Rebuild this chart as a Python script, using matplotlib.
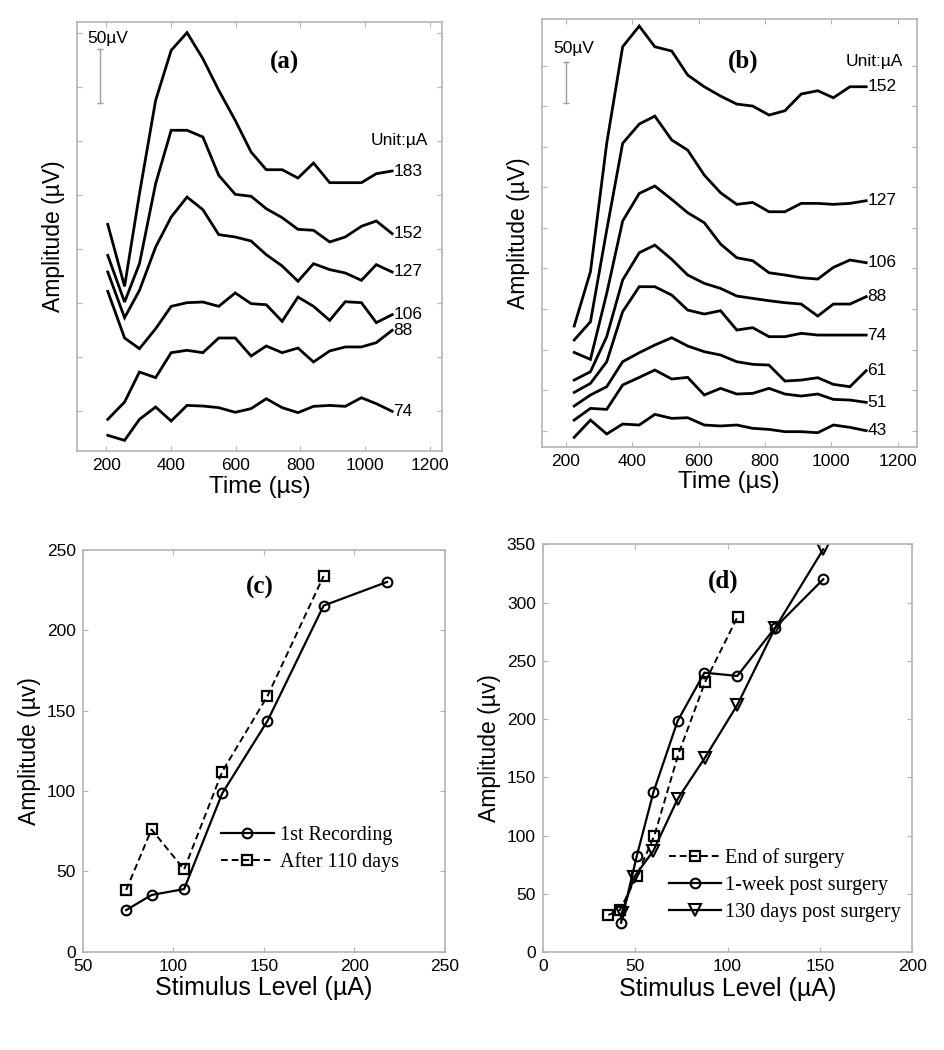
"""Recreation of a four-panel ECAP figure: waveforms (a, b) and growth curves (c, d)."""
import matplotlib
matplotlib.use("Agg")
import matplotlib.pyplot as plt

SANS = "Liberation Sans"
SERIF = "Liberation Serif"
plt.rcParams["font.family"] = [SANS, "DejaVu Sans"]
plt.rcParams["mathtext.default"] = "regular"

GRAY = "#b4b4b4"

# ---- panel (a): waveforms, traces offset vertically (uV) ----
time_a = [205, 257, 303, 353, 401, 450, 499, 548, 599, 648, 695, 744, 793,
          841, 891, 939, 989, 1035, 1084]
wave_a_183 = [172.5, 115.1, 200.9, 287.3, 333.6, 350.0, 325.9, 296.6, 268.8,
              239.5, 223.1, 223.1, 215.4, 229.3, 211.1, 211.1, 211.1, 219.4, 221.9]
wave_a_152 = [143.8, 100.6, 136.1, 210.2, 259.6, 259.6, 253.4, 217.9, 200.3,
              198.5, 187.0, 178.7, 167.9, 167.0, 156.2, 160.8, 170.7, 175.6, 163.9]
wave_a_127 = [128.4, 86.1, 111.4, 151.5, 179.3, 197.8, 186.1, 163.0, 160.8,
              157.1, 144.4, 134.0, 119.8, 136.1, 130.6, 127.5, 120.7, 135.2, 128.4]
wave_a_106 = [110.5, 67.3, 57.4, 75.9, 96.6, 100.0, 100.6, 96.6, 109.0,
              99.1, 98.1, 82.7, 105.2, 96.6, 83.6, 100.9, 100.0, 81.5, 88.9]
wave_a_88 = [-8.0, 8.0, 35.8, 30.6, 53.7, 55.9, 53.7, 67.3, 67.3,
             50.6, 59.9, 53.7, 58.0, 45.1, 55.3, 59.0, 59.0, 63.0, 74.4]
wave_a_74 = [-22.8, -27.5, -8.0, 3.4, -9.6, 4.9, 4.3, 2.8, -1.5,
             1.9, 11.1, 2.8, -1.8, 4.0, 4.9, 4.0, 12.0, 6.5, -0.6]
levels_a = ["183", "152", "127", "106", "88", "74"]

# ---- panel (b) ----
time_b = [225, 274, 323, 371, 421, 468, 519, 567, 617, 666, 715, 763, 812,
          860, 909, 959, 1006, 1056, 1105]
wave_b_152 = [129.0, 196.0, 354.2, 473.3, 498.8, 473.3, 468.0, 438.4, 424.0,
              412.5, 402.6, 400.2, 389.1, 394.4, 415.0, 419.1, 410.4, 424.0, 424.0]
wave_b_127 = [111.8, 134.3, 247.3, 354.2, 378.0, 387.8, 358.3, 345.9, 315.1,
              293.3, 279.0, 281.4, 269.9, 269.9, 280.2, 280.2, 279.0, 280.2, 283.5]
wave_b_106 = [96.5, 87.9, 169.3, 258.4, 292.5, 301.6, 285.1, 268.7, 256.4,
              230.1, 213.2, 209.5, 194.7, 191.9, 188.6, 186.9, 201.3, 210.4, 207.1]
wave_b_88 = [62.4, 72.7, 115.9, 185.7, 219.4, 228.8, 211.2, 191.9, 181.6,
             175.4, 166.0, 163.1, 160.2, 157.8, 156.1, 141.3, 156.1, 156.1, 165.2]
wave_b_74 = [47.2, 58.3, 85.0, 146.7, 177.5, 177.5, 167.2, 148.7, 143.8,
             147.9, 124.1, 127.0, 115.9, 115.9, 120.0, 117.9, 117.9, 117.9, 117.9]
wave_b_61 = [30.4, 44.0, 54.2, 85.0, 96.1, 105.6, 114.6, 104.4, 97.4,
             93.3, 85.0, 81.8, 80.9, 61.2, 62.4, 65.3, 57.1, 54.2, 74.0]
wave_b_51 = [13.1, 27.5, 26.3, 56.3, 65.7, 74.8, 63.7, 65.7, 44.0,
             52.2, 45.2, 46.0, 52.2, 45.2, 42.7, 45.2, 38.6, 37.8, 34.9]
wave_b_43 = [-8.2, 13.1, -4.1, 8.2, 7.0, 20.1, 15.2, 16.0, 7.0,
             5.8, 7.0, 2.9, 1.6, -1.2, -1.2, -2.5, 7.0, 4.1, 0.0]
levels_b = ["152", "127", "106", "88", "74", "61", "51", "43"]

# ---- panel (c): growth function ----
stim_c_first = [74, 88, 106, 127, 152, 183, 218]
amp_c_first = [25.9, 35.3, 39.0, 98.5, 143.6, 215.4, 230.1]
stim_c_after = [74, 88, 106, 127, 152, 183]
amp_c_after = [38.4, 76.1, 51.2, 112.0, 159.1, 233.8]

# ---- panel (d) ----
stim_d_end = [35.5, 41.8, 50.9, 60.4, 73.4, 87.8, 105.5]
amp_d_end = [32.0, 36.3, 65.5, 100.1, 169.9, 231.6, 288.0]
stim_d_week = [42.4, 50.9, 59.9, 73.0, 87.5, 105.3, 125.7, 151.8]
amp_d_week = [25.4, 82.6, 137.3, 198.5, 239.9, 237.1, 278.5, 320.0]
stim_d_130 = [42.7, 49.6, 59.9, 73.0, 87.8, 105.3, 125.7, 151.8]
amp_d_130 = [33.5, 64.9, 87.2, 131.5, 167.0, 212.2, 278.0, 345.7]

TICK_FS = 12.5
LABEL_FS = 16.5
XLABEL_FS = 18
LEG_FS = 14.5
TAG_FS = 18


def style_axes(ax):
    for s in ax.spines.values():
        s.set_color(GRAY)
        s.set_linewidth(1.2)
    ax.tick_params(direction="in", top=True, right=True, length=3.5,
                   width=0.8, color=GRAY, labelsize=TICK_FS, pad=5)


def waveform_panel(ax, t, traces, labels, xlim, ylim, yticks, tag, tag_xy,
                   unit_xy, bar_x, bar_y0, mv_xy, lab_x):
    for w in traces:
        ax.plot(t, w, color="black", lw=2.0, solid_joinstyle="miter")
    for w, lab in zip(traces, labels):
        ax.text(lab_x, w[-1], lab, fontsize=TICK_FS, va="center", ha="left")
    ax.set_xlim(*xlim)
    ax.set_ylim(*ylim)
    ax.set_xticks([200, 400, 600, 800, 1000, 1200])
    ax.set_yticks(yticks)
    ax.set_yticklabels([])
    style_axes(ax)
    ax.set_xlabel("Time (µs)", fontsize=17.5, labelpad=2)
    ax.set_ylabel("Amplitude (µV)", fontsize=LABEL_FS, labelpad=3.5)
    ax.text(*tag_xy, tag, fontsize=TAG_FS, fontweight="bold", family=SERIF,
            ha="center", va="center")
    ax.text(*unit_xy, "Unit:µA", fontsize=TICK_FS, ha="right", va="center")
    ax.plot([bar_x, bar_x], [bar_y0, bar_y0 + 50], color="#a0a0a0", lw=1.0,
            marker="_", ms=5, mew=1.0)
    ax.text(*mv_xy, "50µV", fontsize=12.5, ha="left", va="center")


fig = plt.figure(figsize=(9.45, 10.5), dpi=100)

ax_a = fig.add_axes([0.0815, 0.5705, 0.3862, 0.4086])
waveform_panel(ax_a, time_a,
               [wave_a_183, wave_a_152, wave_a_127, wave_a_106, wave_a_88, wave_a_74],
               levels_a, (110, 1238), (-37.3, 359.9), range(0, 351, 50),
               "(a)", (751, 322.8), (1195, 250.3), 182, 285.2, (143, 344.4), 1088)

ax_b = fig.add_axes([0.5732, 0.5746, 0.3968, 0.4073])
waveform_panel(ax_b, time_b,
               [wave_b_152, wave_b_127, wave_b_106, wave_b_88, wave_b_74,
                wave_b_61, wave_b_51, wave_b_43],
               levels_b, (127, 1257), (-19.7, 507.5), range(0, 451, 50),
               "(b)", (735, 454.8), (1217, 454.8), 200, 404.3, (162, 471.2), 1108)

# (c)
ax_c = fig.add_axes([0.0875, 0.0936, 0.3834, 0.3826])
ax_c.plot(stim_c_first, amp_c_first, color="black", lw=1.6, marker="o", ms=7,
          mfc="none", mew=1.5, label="1st Recording")
ax_c.plot(stim_c_after, amp_c_after, color="black", lw=1.4, ls=(0, (3.5, 2.0)),
          marker="s", ms=7, mfc="none", mew=1.6, label="After 110 days")
ax_c.set_xlim(50, 250)
ax_c.set_ylim(0, 250)
ax_c.set_xticks(range(50, 251, 50))
ax_c.set_yticks(range(0, 251, 50))
style_axes(ax_c)
ax_c.set_xlabel("Stimulus Level (µA)", fontsize=XLABEL_FS, labelpad=2)
ax_c.set_ylabel("Amplitude (µv)", fontsize=LABEL_FS, labelpad=4)
ax_c.text(147.5, 226.8, "(c)", fontsize=TAG_FS, fontweight="bold", family=SERIF,
          ha="center", va="center")
ax_c.legend(loc="upper left", bbox_to_anchor=(0.36, 0.333), frameon=False,
            prop={"family": SERIF, "size": LEG_FS}, handlelength=2.6,
            handletextpad=0.3, labelspacing=0.35, numpoints=1, borderaxespad=0)

# (d)
ax_d = fig.add_axes([0.5743, 0.0930, 0.3911, 0.3886])
ax_d.plot(stim_d_end, amp_d_end, color="black", lw=1.4, ls=(0, (3.5, 2.0)),
          marker="s", ms=7, mfc="none", mew=1.6, label="End of surgery")
ax_d.plot(stim_d_week, amp_d_week, color="black", lw=1.6, marker="o", ms=7,
          mfc="none", mew=1.5, label="1-week post surgery")
ax_d.plot(stim_d_130, amp_d_130, color="black", lw=1.6, marker="v", ms=8,
          mfc="none", mew=1.5, label="130 days post surgery")
ax_d.set_xlim(0, 200)
ax_d.set_ylim(0, 350)
ax_d.set_xticks(range(0, 201, 50))
ax_d.set_yticks(range(0, 351, 50))
style_axes(ax_d)
ax_d.set_xlabel("Stimulus Level (µA)", fontsize=XLABEL_FS, labelpad=2)
ax_d.set_ylabel("Amplitude (µv)", fontsize=LABEL_FS, labelpad=4)
ax_d.text(97.7, 318.6, "(d)", fontsize=TAG_FS, fontweight="bold", family=SERIF,
          ha="center", va="center")
ax_d.legend(loc="upper left", bbox_to_anchor=(0.32, 0.275), frameon=False,
            prop={"family": SERIF, "size": LEG_FS}, handlelength=2.6,
            handletextpad=0.2, labelspacing=0.4, numpoints=1, borderaxespad=0)

fig.savefig("out.png", dpi=100)
